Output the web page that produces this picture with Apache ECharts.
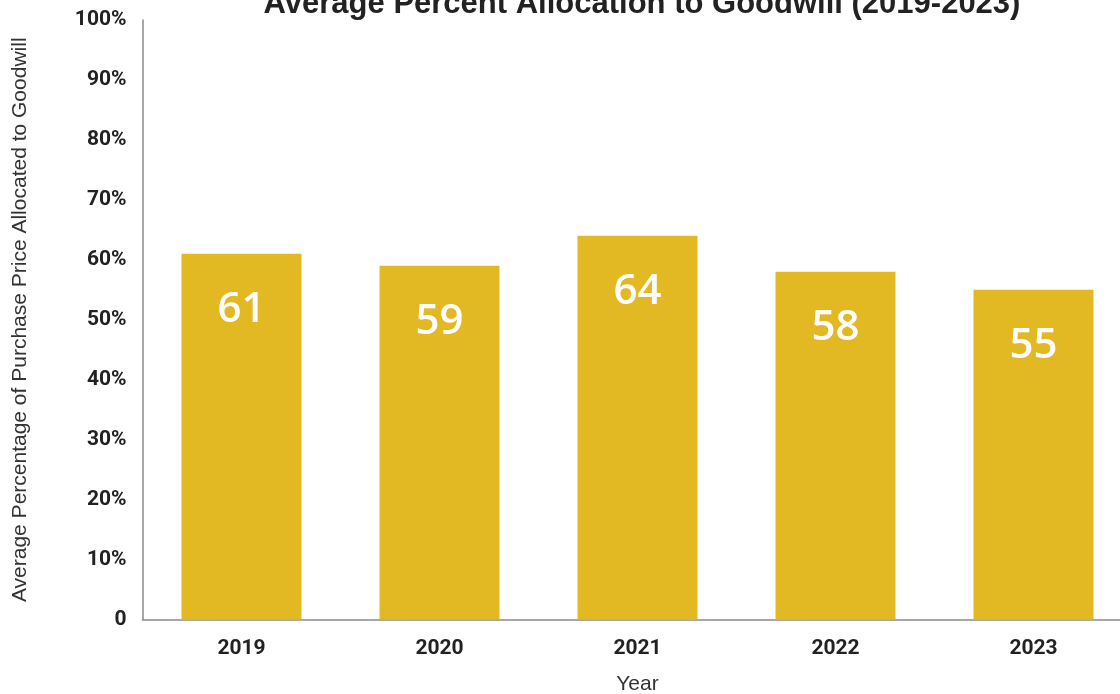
<!DOCTYPE html>
<html>
<head>
<meta charset="utf-8">
<script src="https://cdn.jsdelivr.net/npm/echarts@6/dist/echarts.min.js"></script>
<style>
  html, body { margin: 0; padding: 0; background: #ffffff; }
  #chart { width: 1120px; height: 694px; }
</style>
</head>
<body>
<div id="chart"></div>
<script>
// Average share of purchase price allocated to goodwill, by deal year
const years = ['2019', '2020', '2021', '2022', '2023'];
const goodwillPct = [61, 59, 64, 58, 55];
const yTicks = [0, 10, 20, 30, 40, 50, 60, 70, 80, 90, 100];

const chart = echarts.init(document.getElementById('chart'), null, { renderer: 'canvas' });

chart.setOption({
  backgroundColor: '#ffffff',
  animation: false,
  title: {
    text: 'Average Percent Allocation to Goodwill (2019-2023)',
    left: 637,
    textAlign: 'center',
    top: -16,
    textStyle: {
      fontFamily: 'Liberation Sans',
      fontWeight: 'bold',
      fontSize: 31,
      color: '#222222'
    }
  },
  grid: {
    outerBoundsMode: 'none',
    containLabel: false,
    left: 142.5,
    top: 20,
    width: 990,
    height: 599.5
  },
  xAxis: {
    type: 'category',
    data: years,
    name: 'Year',
    nameLocation: 'middle',
    nameGap: 54,
    nameTextStyle: {
      fontFamily: 'Liberation Sans',
      fontSize: 21,
      color: '#333333'
    },
    axisLine: { lineStyle: { color: '#8a8a8a', width: 1.5 } },
    axisTick: { show: false },
    axisLabel: {
      margin: 19,
      fontFamily: 'Roboto',
      fontWeight: 'bold',
      fontSize: 21,
      color: '#222222'
    }
  },
  yAxis: {
    type: 'value',
    min: yTicks[0],
    max: yTicks[yTicks.length - 1],
    interval: 10,
    name: 'Average Percentage of Purchase Price Allocated to Goodwill',
    nameLocation: 'middle',
    nameGap: 112,
    nameTextStyle: {
      fontFamily: 'Liberation Sans',
      fontSize: 21,
      color: '#333333'
    },
    splitLine: { show: false },
    axisLine: { show: true, lineStyle: { color: '#8a8a8a', width: 1.5 } },
    axisTick: { show: false },
    axisLabel: {
      margin: 16,
      padding: [5, 0, 0, 0],
      fontFamily: 'Roboto',
      fontWeight: 'bold',
      fontSize: 21,
      color: '#222222',
      formatter: v => (v === 0 ? '0' : v + '%')
    }
  },
  series: [{
    type: 'bar',
    data: goodwillPct,
    barWidth: 120,
    itemStyle: { color: '#E3B923' },
    label: {
      show: true,
      position: 'insideTop',
      distance: 35,
      fontFamily: 'Open Sans',
      fontWeight: 600,
      fontSize: 42,
      color: '#ffffff',
      formatter: p => String(Math.round(p.value))
    }
  }]
});
</script>
</body>
</html>
